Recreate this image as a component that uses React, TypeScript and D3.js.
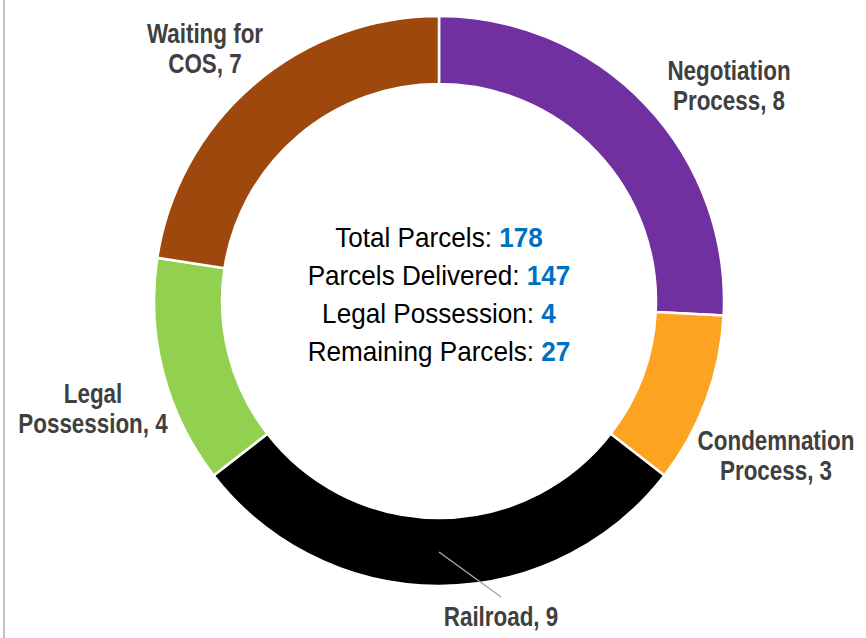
import React from "react"
import * as d3 from "d3"

const categories = ["Negotiation Process", "Condemnation Process", "Railroad", "Legal Possession", "Waiting for COS"]
const values = [8, 3, 9, 4, 7]
const colors = ["#7030A0", "#FCA321", "#000000", "#92D050", "#9E480E"]

const summaryLabels = ["Total Parcels: ", "Parcels Delivered: ", "Legal Possession: ", "Remaining Parcels: "]
const summaryValues = [178, 147, 4, 27]

// label text lines and their placement (centre x, first-line baseline)
const labelLines = [
  ["Negotiation", "Process, 8"],
  ["Condemnation", "Process, 3"],
  ["Railroad, 9"],
  ["Legal", "Possession, 4"],
  ["Waiting for", "COS, 7"],
]
const labelPos = [
  [729, 80],
  [776, 450],
  [501, 626],
  [93, 403],
  [205, 43],
]

function App() {
  const width = 866
  const height = 638
  const cx = 439
  const cy = 301
  const outer = 285
  const inner = 217

  const pieGen = d3.pie<number>().sort(null).value((d) => d)
  const arcGen = d3.arc<d3.PieArcDatum<number>>().innerRadius(inner).outerRadius(outer)
  const arcs = pieGen(values)

  const railCentroid = arcGen.centroid(arcs[2])

  return (
    <svg width={width} height={height} style={{ position: "absolute", left: 0, top: 0 }}
      fontFamily="'Liberation Sans', Arial, sans-serif">
      <rect width={width} height={height} fill="#ffffff" />
      <line x1={4} y1={0} x2={4} y2={height} stroke="#c4c4c4" strokeWidth={2} />
      <g transform={`translate(${cx}, ${cy})`}>
        {arcs.map((a, i) => (
          <path key={categories[i]} d={arcGen(a) ?? ""} fill={colors[i]} stroke="#ffffff" strokeWidth={2.5} />
        ))}
        <line x1={railCentroid[0]} y1={railCentroid[1]} x2={62} y2={296} stroke="#a6a6a6" strokeWidth={1.5} />
        {summaryLabels.map((s, i) => (
          <g key={s} transform={`translate(0, ${-54 + i * 38}) scale(0.95, 1)`}>
            <text x={0} y={0} textAnchor="middle" fontSize={27.5} fill="#000000">
              {s}
              <tspan fill="#0070C0" fontWeight="bold">{summaryValues[i]}</tspan>
            </text>
          </g>
        ))}
      </g>
      {labelLines.map((lines, i) => (
        <g key={categories[i]} transform={`translate(${labelPos[i][0]}, ${labelPos[i][1]}) scale(0.83, 1)`}>
          <text textAnchor="middle" fontSize={27} fontWeight="bold" fill="#404040">
            {lines.map((l, j) => (
              <tspan key={j} x={0} y={j * 30.5}>{l}</tspan>
            ))}
          </text>
        </g>
      ))}
    </svg>
  )
}

export default App
